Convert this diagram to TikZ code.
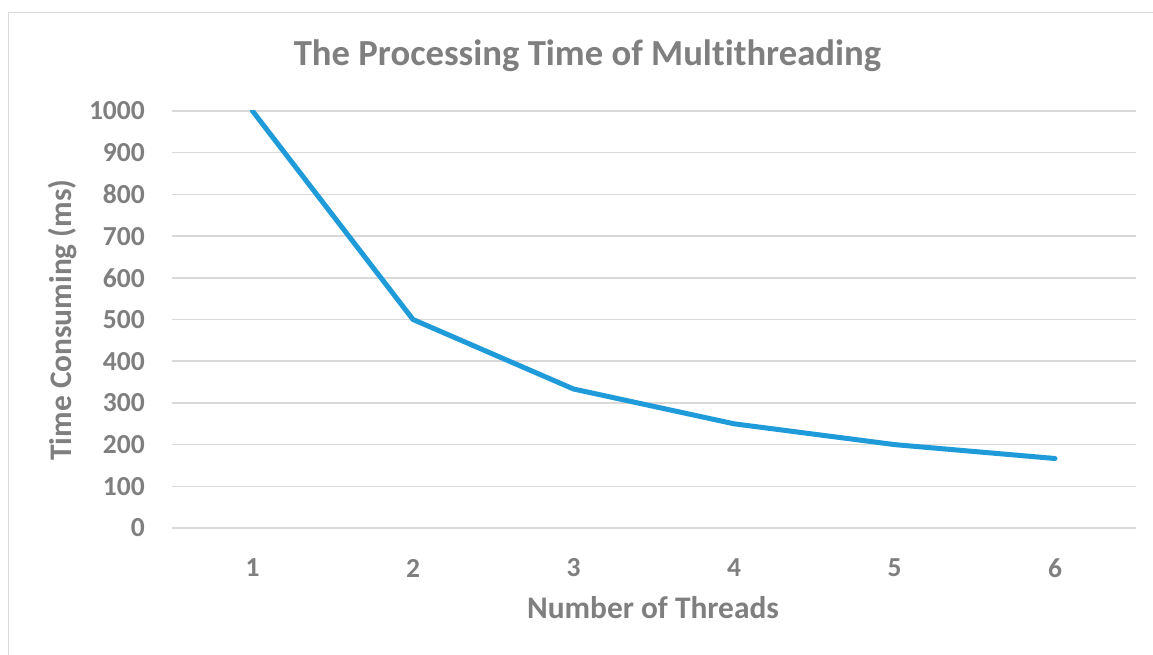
\documentclass[tikz,border=0pt]{standalone}
\usepackage{fontspec}
\setmainfont{Carlito}[Ligatures=NoCommon]
\definecolor{txtgray}{HTML}{7F7F7F}
\definecolor{gridgray}{HTML}{D9D9D9}
\definecolor{frame}{HTML}{D9D9D9}
\definecolor{lineblue}{HTML}{1F9BDA}
\begin{document}
\begin{tikzpicture}[x=1pt,y=-1pt,
  grid/.style={draw=gridgray,line width=1.5pt},
  ylab/.style={anchor=east,inner sep=0pt,text=txtgray,font=\fontsize{27.5}{30}\selectfont\bfseries},
  xlab/.style={anchor=center,inner sep=0pt,text=txtgray,font=\fontsize{27.5}{30}\selectfont\bfseries},
  axtitle/.style={text=txtgray,font=\fontsize{31.4}{36}\selectfont\bfseries,inner sep=0pt},
  series/.style={draw=lineblue,line width=5pt,line join=round,line cap=round}]
\useasboundingbox (0,0) rectangle (1153,655);
\fill[white] (0,0) rectangle (1153,655);
% frame
\draw[frame,line width=1.5pt] (8.5,660) -- (8.5,12.5) -- (1160,12.5);
% title
\node[text=txtgray,font=\fontsize{36.7}{42}\selectfont\bfseries,inner sep=0pt] (title) at (587.5,56) {The Processing Time of Multithreading};
% gridlines and y labels
\foreach \v in {0,1,...,10}{
  \pgfmathsetmacro{\yy}{528-\v*41.7}
  \draw[grid] (172,\yy) -- (1136,\yy);
  \pgfmathtruncatemacro{\lab}{\v*100}
  \node[ylab] (y\v) at (145,\yy) {\lab};
}
% x labels
\foreach \i in {1,...,6}{
  \pgfmathsetmacro{\xx}{252.5+(\i-1)*160.5}
  \node[xlab] (x\i) at (\xx,568) {\i};
}
% axis titles
\node[axtitle] (xt) at (653,608) {Number of Threads};
\node[axtitle,rotate=90] (yt) at (63,320) {Time Consuming (ms)};
% data
\coordinate (p1) at (252.5,111);
\coordinate (p2) at (413,319.5);
\coordinate (p3) at (573.5,389);
\coordinate (p4) at (734,423.8);
\coordinate (p5) at (894.5,444.6);
\coordinate (p6) at (1055,458.5);
\begin{scope}
\clip (0,111) rectangle (1153,655);
\draw[series] (p1) -- (p2) -- (p3) -- (p4) -- (p5) -- (p6);
\end{scope}
\end{tikzpicture}
\end{document}
